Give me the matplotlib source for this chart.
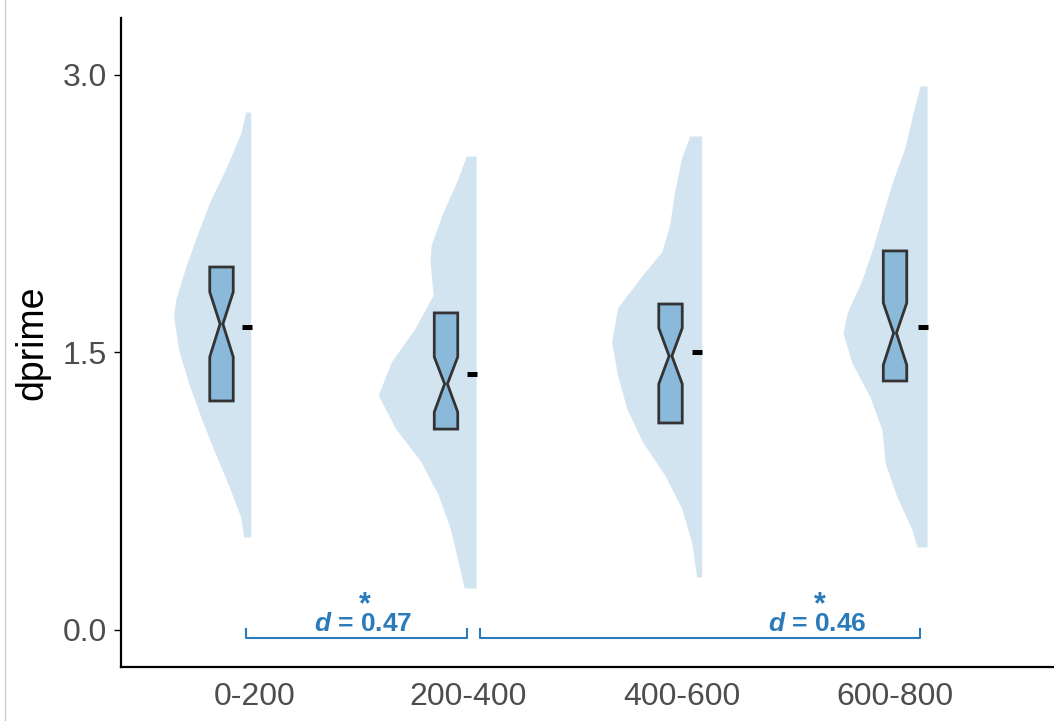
import matplotlib.pyplot as plt
import numpy as np
from matplotlib.lines import Line2D

plt.rcParams['font.family'] = ['Liberation Sans', 'DejaVu Sans']
plt.rcParams['mathtext.fontset'] = 'custom'
plt.rcParams['mathtext.it'] = 'Liberation Sans:italic:bold'
plt.rcParams['mathtext.rm'] = 'Liberation Sans:bold'

groups = ['0-200', '200-400', '400-600', '600-800']

# half-violin outlines: dprime level and half width (x units)
dens_y = [
    [2.80, 2.686, 2.503, 2.324, 2.146, 1.962, 1.784, 1.692, 1.514, 1.335, 1.151, 0.973, 0.795, 0.611, 0.503],
    [2.562, 2.443, 2.259, 2.081, 1.989, 1.811, 1.632, 1.449, 1.270, 1.092, 0.908, 0.730, 0.551, 0.368, 0.227],
    [2.670, 2.551, 2.368, 2.189, 2.043, 1.919, 1.741, 1.557, 1.378, 1.200, 1.016, 0.838, 0.659, 0.476, 0.286],
    [2.941, 2.795, 2.611, 2.432, 2.254, 2.070, 1.892, 1.714, 1.605, 1.443, 1.259, 1.081, 0.903, 0.719, 0.541, 0.449],
]
dens_w = [
    [0.023, 0.047, 0.113, 0.188, 0.248, 0.305, 0.352, 0.361, 0.338, 0.291, 0.234, 0.173, 0.108, 0.047, 0.033],
    [0.047, 0.084, 0.155, 0.211, 0.216, 0.202, 0.286, 0.398, 0.459, 0.380, 0.258, 0.178, 0.122, 0.084, 0.056],
    [0.056, 0.094, 0.127, 0.150, 0.188, 0.277, 0.394, 0.422, 0.394, 0.352, 0.277, 0.173, 0.094, 0.047, 0.023],
    [0.033, 0.066, 0.103, 0.159, 0.206, 0.253, 0.305, 0.375, 0.394, 0.352, 0.267, 0.211, 0.197, 0.141, 0.070, 0.047],
]

q1 = [1.238, 1.086, 1.119, 1.346]
q3 = [1.962, 1.714, 1.762, 2.049]
med = [1.654, 1.330, 1.481, 1.605]
notch_lo = [1.476, 1.178, 1.330, 1.432]
notch_hi = [1.827, 1.476, 1.632, 1.768]
means = [1.638, 1.384, 1.503, 1.638]

# effect sizes between groups (Cohen's d)
comp_from = [0, 1]
comp_to = [1, 3]
comp_d = ['0.47', '0.46']

violin_col = '#d3e4f1'
box_col = '#8bb9d9'
sig_col = '#2b7bba'

fig = plt.figure(figsize=(10.54, 7.21), dpi=100)
ax = fig.add_axes([121 / 1054, 54 / 721, 933 / 1054, 649 / 721])

xs = np.arange(1, len(groups) + 1)
violin_x = xs - 0.02 + 0.0567 * np.arange(len(groups))
box_x = xs - 0.157 + 0.0523 * np.arange(len(groups))
bw = 0.055

for i in range(len(groups)):
    y = np.array(dens_y[i])
    w = np.array(dens_w[i])
    ax.fill_betweenx(y, violin_x[i] - w, violin_x[i], color=violin_col, lw=0, zorder=1)

    c = box_x[i]
    waist = bw * 0.12
    px = [c - bw, c + bw, c + bw, c + waist, c + bw, c + bw, c - bw, c - bw, c - waist, c - bw, c - bw]
    py = [q1[i], q1[i], notch_lo[i], med[i], notch_hi[i], q3[i], q3[i], notch_hi[i], med[i], notch_lo[i], q1[i]]
    ax.fill(px, py, facecolor=box_col, edgecolor='#333333', lw=2.0, joinstyle='miter', zorder=3)

    ax.plot([violin_x[i] - 0.043, violin_x[i] + 0.004], [means[i], means[i]],
            color='black', lw=3.6, solid_capstyle='butt', zorder=4)

for a, b, d in zip(comp_from, comp_to, comp_d):
    if a == 0:
        x0 = violin_x[a] - 0.02
        x1 = violin_x[b] - 0.045
        xm = (x0 + x1) / 2 + 0.03
    else:
        x0 = violin_x[a] + 0.02
        x1 = violin_x[b] - 0.033
        xm = x1 - 0.48
    ax.plot([x0, x0, x1, x1], [0.005, -0.043, -0.043, 0.005], color=sig_col, lw=1.5, zorder=2)
    ax.text(xm, -0.005, r'$d$ = ' + d, ha='center', va='baseline', fontsize=19,
            fontweight='bold', color=sig_col)
    ax.text(xm + 0.01, 0.09, '*', ha='center', va='baseline', fontsize=22,
            fontweight='bold', color=sig_col)

ax.set_xlim(0.372, 4.745)
ax.set_ylim(-0.2, 3.308)
ax.set_xticks(xs)
ax.set_xticklabels(groups)
ax.set_yticks([0.0, 1.5, 3.0])
ax.set_yticklabels(['0.0', '1.5', '3.0'])
ax.tick_params(axis='x', length=0, pad=11, labelsize=23, labelcolor='#4d4d4d')
ax.tick_params(axis='y', length=5, width=1, pad=5, labelsize=23, labelcolor='#4d4d4d')
ax.set_ylabel('dprime', fontsize=27, labelpad=9)
for s in ['top', 'right']:
    ax.spines[s].set_visible(False)
ax.spines['left'].set_linewidth(1.6)
ax.spines['bottom'].set_linewidth(1.6)

fig.add_artist(Line2D([5 / 1054, 5 / 1054], [0, 1], color='#cccccc', lw=1))

fig.savefig('out.png', dpi=100)
